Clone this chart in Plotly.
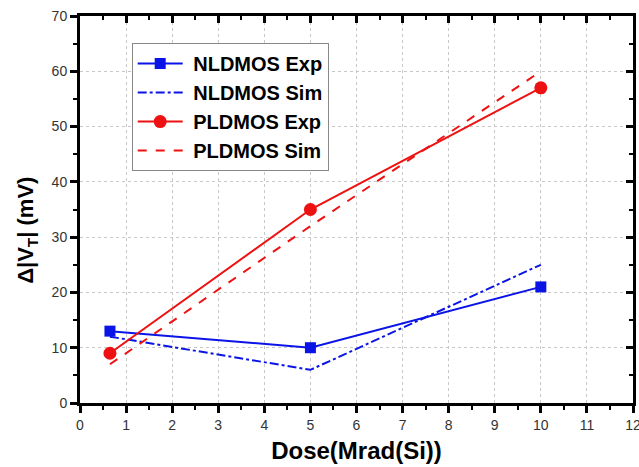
import plotly.graph_objects as go

# Total dose points (Mrad(Si)) and threshold-voltage shifts (mV)
dose = [0.65, 5, 10]
nldmos_exp = [13, 10, 21]
nldmos_sim = [12, 6, 25]
pldmos_exp = [9, 35, 57]
pldmos_sim = [7, 32, 60]

x_ticks = list(range(0, 13))
y_ticks = list(range(0, 71, 10))

BLUE = "#0a14e6"
RED = "#ee1111"


def label(text):
    # bold legend label with a small lead-in gap after the line sample
    return "\u00a0<b>" + text + "</b>"


fig = go.Figure()
fig.add_trace(go.Scatter(
    x=dose, y=nldmos_exp, name=label("NLDMOS Exp"), mode="lines+markers",
    line=dict(color=BLUE, width=2), marker=dict(symbol="square", size=11, color=BLUE)))
fig.add_trace(go.Scatter(
    x=dose, y=nldmos_sim, name=label("NLDMOS Sim"), mode="lines",
    line=dict(color=BLUE, width=2, dash="dashdot")))
fig.add_trace(go.Scatter(
    x=dose, y=pldmos_exp, name=label("PLDMOS Exp"), mode="lines+markers",
    line=dict(color=RED, width=2), marker=dict(symbol="circle", size=13, color=RED)))
fig.add_trace(go.Scatter(
    x=dose, y=pldmos_sim, name=label("PLDMOS Sim"), mode="lines",
    line=dict(color=RED, width=2, dash="dash")))

# invisible trace so the mirrored (top/right) axes are rendered
fig.add_trace(go.Scatter(x=[0], y=[0], xaxis="x2", yaxis="y2", mode="markers",
                         marker=dict(opacity=0), showlegend=False, hoverinfo="skip"))

tick_font = dict(family="Arial", size=14, color="#333333")
grid = dict(showgrid=True, gridcolor="#c8c8c8", gridwidth=1, griddash="dot")

fig.update_layout(
    width=639, height=467,
    margin=dict(l=80, r=6, t=16, b=64, autoexpand=False),
    plot_bgcolor="white", paper_bgcolor="white",
    font=dict(family="Arial"),
    xaxis=dict(range=[0, 12], tickvals=x_ticks, ticktext=[str(v) for v in x_ticks],
               ticklabeloverflow="allow", automargin=False,
               showline=True, linecolor="black", linewidth=3,
               ticks="outside", ticklen=7, tickwidth=2.5, tickcolor="black",
               minor=dict(dtick=0.5, ticks="outside", ticklen=4, tickwidth=2, tickcolor="black", showgrid=False),
               tickfont=tick_font, zeroline=False, **grid,
               title=dict(text="<b>Dose(Mrad(Si))</b>", font=dict(family="Arial", size=24, color="black"),
                          standoff=11)),
    yaxis=dict(range=[0, 70], tickvals=y_ticks, ticktext=[str(v) for v in y_ticks],
               automargin=False,
               showline=True, linecolor="black", linewidth=3,
               ticks="outside", ticklen=7, tickwidth=2.5, tickcolor="black",
               minor=dict(dtick=5, ticks="outside", ticklen=4, tickwidth=2, tickcolor="black", showgrid=False),
               tickfont=tick_font, zeroline=False, **grid),
    xaxis2=dict(range=[0, 12], overlaying="x", side="top", showline=True, linecolor="black",
                linewidth=3, tickvals=x_ticks, ticks="inside", ticklen=7, tickwidth=2.5,
                tickcolor="black", showticklabels=False, showgrid=False, zeroline=False,
                minor=dict(dtick=0.5, ticks="inside", ticklen=4, tickwidth=2, tickcolor="black")),
    yaxis2=dict(range=[0, 70], overlaying="y", side="right", showline=True, linecolor="black",
                linewidth=3, tickvals=y_ticks, ticks="inside", ticklen=7, tickwidth=2.5,
                tickcolor="black", showticklabels=False, showgrid=False, zeroline=False,
                minor=dict(dtick=5, ticks="inside", ticklen=4, tickwidth=2, tickcolor="black")),
    legend=dict(x=0.0935, y=0.93, xanchor="left", yanchor="top",
                bgcolor="white", bordercolor="#888888", borderwidth=1,
                font=dict(family="Arial", size=20, color="black"),
                tracegroupgap=0, itemwidth=45),
    annotations=[dict(text="<b>Δ|V<sub>T</sub>| (mV)</b>", textangle=-90,
                      xref="paper", yref="paper", x=0, y=0.445, xshift=-53,
                      xanchor="center", yanchor="middle", showarrow=False,
                      font=dict(family="Arial", size=22, color="black"))],
)

fig.write_html("out.html")
